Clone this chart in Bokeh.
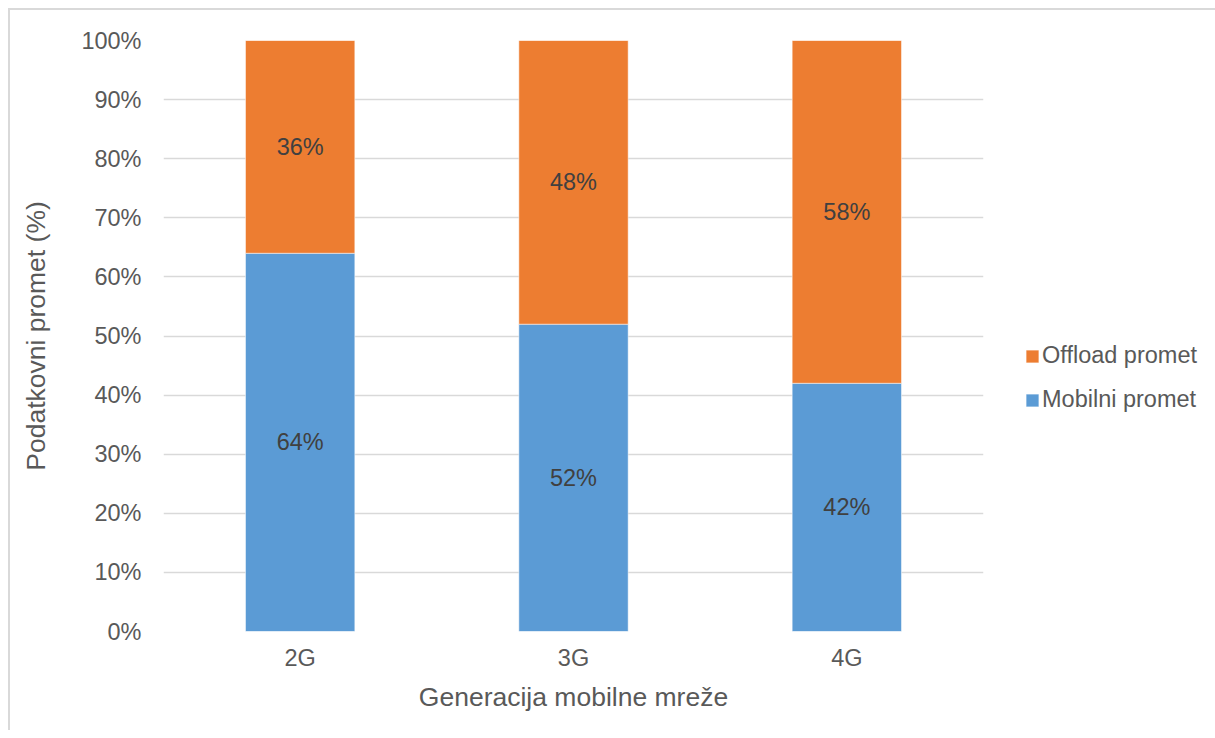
from bokeh.plotting import figure
from bokeh.models import (FactorRange, Range1d, PrintfTickFormatter, Legend, LegendItem,
                          ColumnDataSource, FixedTicker)
from bokeh.core.properties import value
from bokeh.embed import file_html
from bokeh.resources import INLINE

generations = ["2G", "3G", "4G"]
mobilni = [64, 52, 42]
offload = [36, 48, 58]
series_names = ["Mobilni promet", "Offload promet"]
colors = ["#5B9BD5", "#ED7D31"]
y_ticks = [0, 10, 20, 30, 40, 50, 60, 70, 80, 90, 100]

FONT = "Liberation Sans"

src = ColumnDataSource(dict(gen=generations, mob=mobilni, off=offload))

p = figure(x_range=FactorRange(*generations, range_padding=0),
           y_range=Range1d(0, 100),
           frame_width=820, frame_height=591,
           min_border_left=153, min_border_top=30, min_border_right=10, min_border_bottom=99,
           output_backend="svg", toolbar_location=None,
           styles={"border-top": "2px solid #d9d9d9", "border-left": "2px solid #d9d9d9",
                   "margin-top": "8px", "margin-left": "8px"})

r = p.vbar_stack(["mob", "off"], x="gen", width=0.4, source=src,
                 color=colors, line_color="white", line_width=0.5)

# data labels
lab_y_mob = [m / 2 for m in mobilni]
lab_y_off = [m + o / 2 for m, o in zip(mobilni, offload)]
lab_src = ColumnDataSource(dict(
    x=generations + generations,
    y=lab_y_mob + lab_y_off,
    t=[f"{v}%" for v in mobilni] + [f"{v}%" for v in offload]))
p.text(x="x", y="y", text="t", source=lab_src, text_align="center", text_baseline="middle",
       text_font=value(FONT), text_font_size="23.5px", text_color="#404040")

p.outline_line_color = None
p.background_fill_color = "white"
p.border_fill_color = "white"

p.xgrid.grid_line_color = None
p.ygrid.grid_line_color = "#d9d9d9"
p.ygrid.grid_line_width = 1.5
p.yaxis.ticker = FixedTicker(ticks=y_ticks)
p.yaxis.formatter = PrintfTickFormatter(format="%d%%")

for ax in (p.xaxis, p.yaxis):
    ax.axis_line_color = None
    ax.major_tick_line_color = None
    ax.minor_tick_line_color = None
    ax.major_label_text_font = FONT
    ax.major_label_text_font_size = "23.5px"
    ax.major_label_text_color = "#595959"
    ax.axis_label_text_font = FONT
    ax.axis_label_text_font_size = "26.5px"
    ax.axis_label_text_color = "#595959"
    ax.axis_label_text_font_style = "normal"

p.xaxis.axis_label = "Generacija mobilne mreže"
p.yaxis.axis_label = "Podatkovni promet (%)"
p.xaxis.major_label_standoff = 7
p.yaxis.major_label_standoff = 16
p.xaxis.axis_label_standoff = 8
p.yaxis.axis_label_standoff = 27

legend = Legend(items=[LegendItem(label=series_names[1], renderers=[r[1]]),
                       LegendItem(label=series_names[0], renderers=[r[0]])],
                location=(41, 218), orientation="vertical")
legend.padding = 0
legend.margin = 0
legend.spacing = 17
legend.glyph_width = 16
legend.glyph_height = 16
legend.label_height = 22
legend.label_standoff = 2
legend.label_text_font = FONT
legend.label_text_font_size = "23.5px"
legend.label_text_color = "#595959"
legend.border_line_color = None
legend.background_fill_alpha = 0
p.add_layout(legend, "right")

open("out.html", "w").write(file_html(p, INLINE))
